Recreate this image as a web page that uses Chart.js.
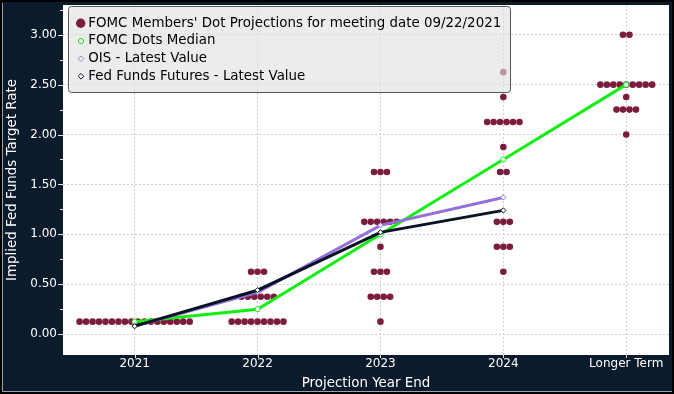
<!DOCTYPE html>
<html><head><meta charset="utf-8">
<script src="https://cdn.jsdelivr.net/npm/chart.js@4.4.0/dist/chart.umd.min.js"></script>
<style>html,body{margin:0;padding:0;background:#0c1b2c;overflow:hidden}#wrap{width:674px;height:394px}</style>
</head><body><div id="wrap"><canvas id="c" width="674" height="394"></canvas></div>
<script>
const categories = ['2021', '2022', '2023', '2024', 'Longer Term'];
// FOMC dot plot: rate levels and number of participants at each level
const dotRates2021 = [0.125];
const dotCounts2021 = [18];
const dotRates2022 = [0.125, 0.375, 0.625];
const dotCounts2022 = [9, 6, 3];
const dotRates2023 = [0.125, 0.375, 0.625, 0.875, 1.125, 1.625];
const dotCounts2023 = [1, 4, 3, 1, 6, 3];
const dotRates2024 = [0.625, 0.875, 1.125, 1.625, 1.875, 2.125, 2.375, 2.625];
const dotCounts2024 = [1, 3, 3, 2, 1, 6, 1, 1];
const dotRatesLonger = [2.0, 2.25, 2.375, 2.5, 3.0];
const dotCountsLonger = [1, 4, 1, 9, 2];
const medianValues = [0.125, 0.25, 1.0, 1.75, 2.5];
const oisValues = [0.08, 0.42, 1.09, 1.37];
const fffValues = [0.08, 0.44, 1.02, 1.24];
const yTickValues = [0, 0.5, 1, 1.5, 2, 2.5, 3];

const legendLabels = ["FOMC Members' Dot Projections for meeting date 09/22/2021", 'FOMC Dots Median', 'OIS - Latest Value', 'Fed Funds Futures - Latest Value'];

const NAVY = '#0c1b2c';
const DOT = '#7b1c3d';
const GREEN = '#11ee11';
const PURPLE = '#9370db';
const DARK = '#0a1226';
const DOT_STEP = 0.0527; // horizontal spacing between stacked dots (in category units)
const FONT = 'DejaVu Sans';

const dotGroups = [
  [dotRates2021, dotCounts2021], [dotRates2022, dotCounts2022], [dotRates2023, dotCounts2023],
  [dotRates2024, dotCounts2024], [dotRatesLonger, dotCountsLonger]
];
const dotPoints = [];
dotGroups.forEach(([rates, counts], i) => {
  rates.forEach((r, j) => {
    const n = counts[j];
    for (let k = 0; k < n; k++) dotPoints.push({ x: i + (k - (n - 1) / 2) * DOT_STEP, y: r });
  });
});

const bgPlugin = {
  id: 'bg',
  beforeDraw(chart) {
    const { ctx, width, height, chartArea: a } = chart;
    ctx.save();
    ctx.fillStyle = NAVY; ctx.fillRect(0, 0, width, height);
    ctx.fillStyle = '#ffffff'; ctx.fillRect(a.left, a.top, a.right - a.left, a.bottom - a.top);
    ctx.restore();
  },
  afterDatasetsDraw(chart) {
    const { ctx } = chart;
    ctx.save();
    // legend box
    const bx = 68.5, by = 6.5, bw = 442, bh = 86;
    ctx.beginPath();
    ctx.roundRect(bx, by, bw, bh, 3);
    ctx.fillStyle = 'rgba(225,225,225,0.62)'; ctx.fill();
    ctx.strokeStyle = '#555'; ctx.lineWidth = 1; ctx.stroke();
    const rowsY = [23.3, 41, 58.7, 76.3];
    const mx = 81;
    ctx.beginPath(); ctx.arc(mx - 0.3, rowsY[0], 4.7, 0, Math.PI * 2); ctx.fillStyle = DOT; ctx.fill();
    ctx.beginPath(); ctx.arc(mx, rowsY[1], 2.6, 0, Math.PI * 2); ctx.fillStyle = '#fff'; ctx.fill();
    ctx.strokeStyle = GREEN; ctx.lineWidth = 1; ctx.stroke();
    [[rowsY[2], PURPLE], [rowsY[3], DARK]].forEach(([yy, col]) => {
      const r = 2.8;
      ctx.beginPath(); ctx.moveTo(mx, yy - r); ctx.lineTo(mx + r, yy); ctx.lineTo(mx, yy + r); ctx.lineTo(mx - r, yy); ctx.closePath();
      ctx.fillStyle = '#fff'; ctx.fill(); ctx.strokeStyle = col; ctx.lineWidth = 1; ctx.stroke();
    });
    ctx.fillStyle = '#000';
    ctx.font = '13.4px "' + FONT + '"';
    ctx.textBaseline = 'middle'; ctx.textAlign = 'left';
    legendLabels.forEach((t, i) => ctx.fillText(t, 88.3, rowsY[i]));
    ctx.restore();
  },
  afterDraw(chart) {
    const { ctx, width, height, chartArea: a } = chart;
    const ys = chart.scales.y, xs = chart.scales.x;
    ctx.save();
    ctx.strokeStyle = '#e6e6e6'; ctx.lineWidth = 1;
    ctx.beginPath();
    yTickValues.forEach(v => {
      const p = Math.round(ys.getPixelForValue(v)) + 0.5;
      ctx.moveTo(a.left - 5, p); ctx.lineTo(a.left, p);
      const m = v + 0.25;
      if (m <= ys.max) {
        const q = Math.round(ys.getPixelForValue(m)) + 0.5;
        ctx.moveTo(a.left - 3, q); ctx.lineTo(a.left, q);
      }
    });
    categories.forEach((c, i) => {
      const p = Math.round(xs.getPixelForValue(i)) + 0.5;
      ctx.moveTo(p, a.bottom); ctx.lineTo(p, a.bottom + 3);
    });
    ctx.stroke();
    ctx.strokeStyle = '#000'; ctx.lineWidth = 2;
    ctx.strokeRect(1, 1, width - 2, height - 2);
    ctx.strokeStyle = '#9aa3ad'; ctx.lineWidth = 1;
    ctx.beginPath();
    ctx.moveTo(2.5, 3); ctx.lineTo(2.5, height - 2.5); ctx.lineTo(width - 2, height - 2.5);
    ctx.stroke();
    ctx.restore();
  }
};

const lineDs = (label, vals, color, style, order) => ({
  label, data: vals.map((v, i) => ({ x: i, y: v })), showLine: true,
  borderColor: color, borderWidth: 3, pointStyle: style, pointRadius: 2.6,
  pointBackgroundColor: '#ffffff', pointBorderColor: color, pointBorderWidth: 1, order
});

new Chart(document.getElementById('c'), {
  type: 'scatter',
  data: {
    datasets: [
      lineDs(legendLabels[3], fffValues, DARK, 'rectRot', 0),
      lineDs(legendLabels[2], oisValues, PURPLE, 'rectRot', 1),
      lineDs(legendLabels[1], medianValues, GREEN, 'circle', 2),
      { label: legendLabels[0], data: dotPoints, showLine: false, pointRadius: 3.3, pointBorderWidth: 0,
        pointBackgroundColor: DOT, backgroundColor: DOT, borderColor: DOT, order: 3 }
    ]
  },
  options: {
    responsive: false, animation: false, devicePixelRatio: 1,
    layout: { padding: { left: 3, top: 2, right: 2, bottom: 2 } },
    plugins: { legend: { display: false }, tooltip: { enabled: false } },
    scales: {
      x: {
        type: 'linear', min: -0.583, max: 4.348,
        afterBuildTicks: s => { s.ticks = categories.map((c, i) => ({ value: i })); },
        afterFit: s => { s.height = 37; s.paddingLeft = 0; s.paddingRight = 0; },
        ticks: { callback: v => categories[v] ?? '', color: '#ffffff', autoSkip: false, maxRotation: 0,
                 font: { family: FONT, size: 12 }, padding: 2 },
        grid: { color: '#cfcfcf', drawTicks: false, lineWidth: 1 },
        border: { display: false, dash: [2, 2] },
        title: { display: true, text: 'Projection Year End', color: '#ffffff', font: { family: FONT, size: 13.4 }, padding: { top: 2, bottom: 0 } }
      },
      y: {
        type: 'linear', min: -0.209, max: 3.298,
        afterBuildTicks: s => { s.ticks = yTickValues.map(v => ({ value: v })); },
        afterFit: s => { s.width = 60; s.paddingTop = 0; s.paddingBottom = 0; },
        ticks: { callback: v => Number(v).toFixed(2), color: '#ffffff', font: { family: FONT, size: 12 }, padding: 6 },
        grid: { color: '#cfcfcf', drawTicks: false, lineWidth: 1 },
        border: { display: false, dash: [2, 2] },
        title: { display: true, text: 'Implied Fed Funds Target Rate', color: '#ffffff', font: { family: FONT, size: 13.4 }, padding: { top: 1.5, bottom: 0 } }
      }
    }
  },
  plugins: [bgPlugin]
});
</script></body></html>
